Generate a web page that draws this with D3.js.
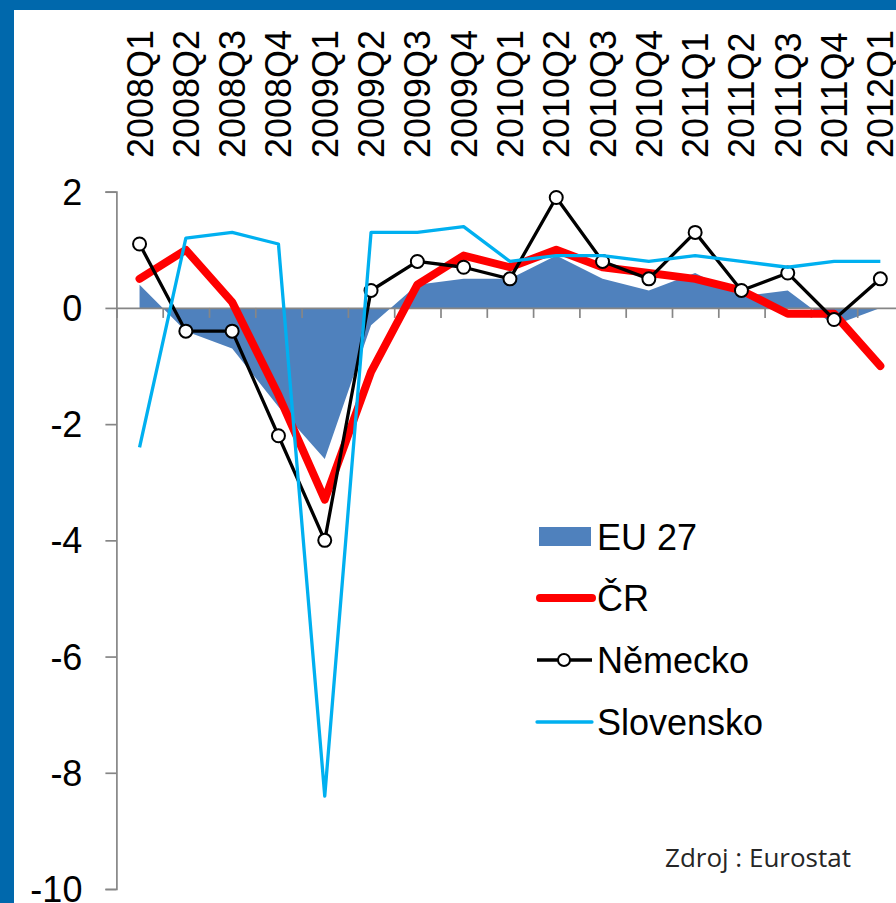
<!DOCTYPE html>
<html>
<head>
<meta charset="utf-8">
<script src="https://cdn.jsdelivr.net/npm/d3@7"></script>
<style>
  body { margin: 0; background: #fff; }
  svg { display: block; font-family: "Liberation Sans", Arial, sans-serif; }
</style>
</head>
<body>
<svg id="chart" width="896" height="903"></svg>
<script>
// quarters on the x axis
const quarters = ["2008Q1", "2008Q2", "2008Q3", "2008Q4", "2009Q1", "2009Q2", "2009Q3", "2009Q4",
  "2010Q1", "2010Q2", "2010Q3", "2010Q4", "2011Q1", "2011Q2", "2011Q3", "2011Q4", "2012Q1"];

// quarter on quarter GDP change, %
const eu27 = [0.4, -0.4, -0.7, -1.7, -2.6, -0.3, 0.4, 0.5, 0.5, 0.9, 0.5, 0.3, 0.6, 0.2, 0.3, -0.3, 0.0];
const cr = [0.5, 1.0, 0.1, -1.5, -3.3, -1.1, 0.4, 0.9, 0.7, 1.0, 0.7, 0.6, 0.5, 0.3, -0.1, -0.1, -1.0];
const nemecko = [1.1, -0.4, -0.4, -2.2, -4.0, 0.3, 0.8, 0.7, 0.5, 1.9, 0.8, 0.5, 1.3, 0.3, 0.6, -0.2, 0.5];
const slovensko = [-2.4, 1.2, 1.3, 1.1, -8.4, 1.3, 1.3, 1.4, 0.8, 0.9, 0.9, 0.8, 0.9, 0.8, 0.7, 0.8, 0.8];

const yTicks = [2, 0, -2, -4, -6, -8, -10];
const legendNames = ["EU 27", "ČR", "Německo", "Slovensko"];

const svg = d3.select("#chart");

// blue frame on the left and top
svg.append("rect").attr("width", 896).attr("height", 903).attr("fill", "#0068ac");
svg.append("rect").attr("x", 14).attr("y", 10).attr("width", 882).attr("height", 893).attr("fill", "#fff");

const x = d3.scaleBand().domain(quarters).range([116.4, 116.4 + 46.3 * quarters.length]);
const y = d3.scaleLinear().domain([-10, 2]).range([889, 191.7]);
const cx = d => x(d) + x.bandwidth() / 2;

// EU 27 area
svg.append("path")
  .datum(eu27)
  .attr("fill", "#4f81bd")
  .attr("d", d3.area()
    .x((d, i) => cx(quarters[i]))
    .y0(y(0))
    .y1(d => y(d)));

// y axis (plain hyphen for negatives, like the original)
const yAxis = svg.append("g")
  .attr("transform", "translate(116.4,0)")
  .call(d3.axisLeft(y).tickValues(yTicks).tickSize(11).tickPadding(23).tickFormat(d => String(d)));
yAxis.selectAll("path, line").attr("stroke", "#868686").attr("stroke-width", 1.7);
yAxis.selectAll("text").attr("font-size", 36).attr("font-family", "Liberation Sans, Arial, sans-serif")
  .attr("fill", "#000").attr("dy", "0.35em");

// x axis at zero, ticks between categories
const xEdge = d3.scaleLinear().domain([0, quarters.length]).range(x.range());
const xAxis = svg.append("g")
  .attr("transform", "translate(0," + y(0) + ")")
  .call(d3.axisBottom(xEdge).tickValues(d3.range(0, quarters.length + 1)).tickSize(10).tickSizeOuter(0).tickFormat(""));
xAxis.selectAll("path, line").attr("stroke", "#868686").attr("stroke-width", 1.7);

// category labels, rotated, on top
svg.append("g").selectAll("text")
  .data(quarters)
  .join("text")
  .attr("transform", d => "translate(" + (cx(d) + 13) + ",158) rotate(-90)")
  .attr("font-size", 36)
  .attr("fill", "#000")
  .text(d => d);

const line = d3.line().x((d, i) => cx(quarters[i])).y(d => y(d));

// ČR
svg.append("path").datum(cr)
  .attr("fill", "none").attr("stroke", "#ff0000").attr("stroke-width", 8)
  .attr("stroke-linejoin", "round").attr("stroke-linecap", "round")
  .attr("d", line);

// Německo
svg.append("path").datum(nemecko)
  .attr("fill", "none").attr("stroke", "#000").attr("stroke-width", 3.3)
  .attr("stroke-linejoin", "round")
  .attr("d", line);
svg.append("g").selectAll("circle")
  .data(nemecko)
  .join("circle")
  .attr("cx", (d, i) => cx(quarters[i]))
  .attr("cy", d => y(d))
  .attr("r", 6.5)
  .attr("fill", "#fff").attr("stroke", "#000").attr("stroke-width", 2);

// Slovensko
svg.append("path").datum(slovensko)
  .attr("fill", "none").attr("stroke", "#00b0f0").attr("stroke-width", 3.3)
  .attr("stroke-linejoin", "round")
  .attr("d", line);

// legend
const legend = svg.append("g").attr("transform", "translate(537,0)");
const rowY = [537, 598, 660, 722];
legend.append("rect").attr("x", 2).attr("y", rowY[0] - 10).attr("width", 52).attr("height", 19).attr("fill", "#4f81bd");
legend.append("line").attr("x1", 3).attr("x2", 55).attr("y1", rowY[1]).attr("y2", rowY[1])
  .attr("stroke", "#ff0000").attr("stroke-width", 8).attr("stroke-linecap", "round");
legend.append("line").attr("x1", 0).attr("x2", 55).attr("y1", rowY[2]).attr("y2", rowY[2])
  .attr("stroke", "#000").attr("stroke-width", 3.3);
legend.append("circle").attr("cx", 27).attr("cy", rowY[2]).attr("r", 6)
  .attr("fill", "#fff").attr("stroke", "#000").attr("stroke-width", 2);
legend.append("line").attr("x1", 0).attr("x2", 55).attr("y1", rowY[3]).attr("y2", rowY[3])
  .attr("stroke", "#00b0f0").attr("stroke-width", 3.3).attr("stroke-linecap", "round");
legend.selectAll("text.name")
  .data(legendNames)
  .join("text")
  .attr("class", "name")
  .attr("x", 60)
  .attr("y", (d, i) => rowY[i] + 13)
  .attr("font-size", 36)
  .attr("fill", "#000")
  .text(d => d);

// source
svg.append("text")
  .attr("x", 665).attr("y", 867)
  .attr("font-family", "'Open Sans', Lato, sans-serif")
  .attr("font-size", 26)
  .attr("fill", "#262626")
  .text("Zdroj : Eurostat");
</script>
</body>
</html>
